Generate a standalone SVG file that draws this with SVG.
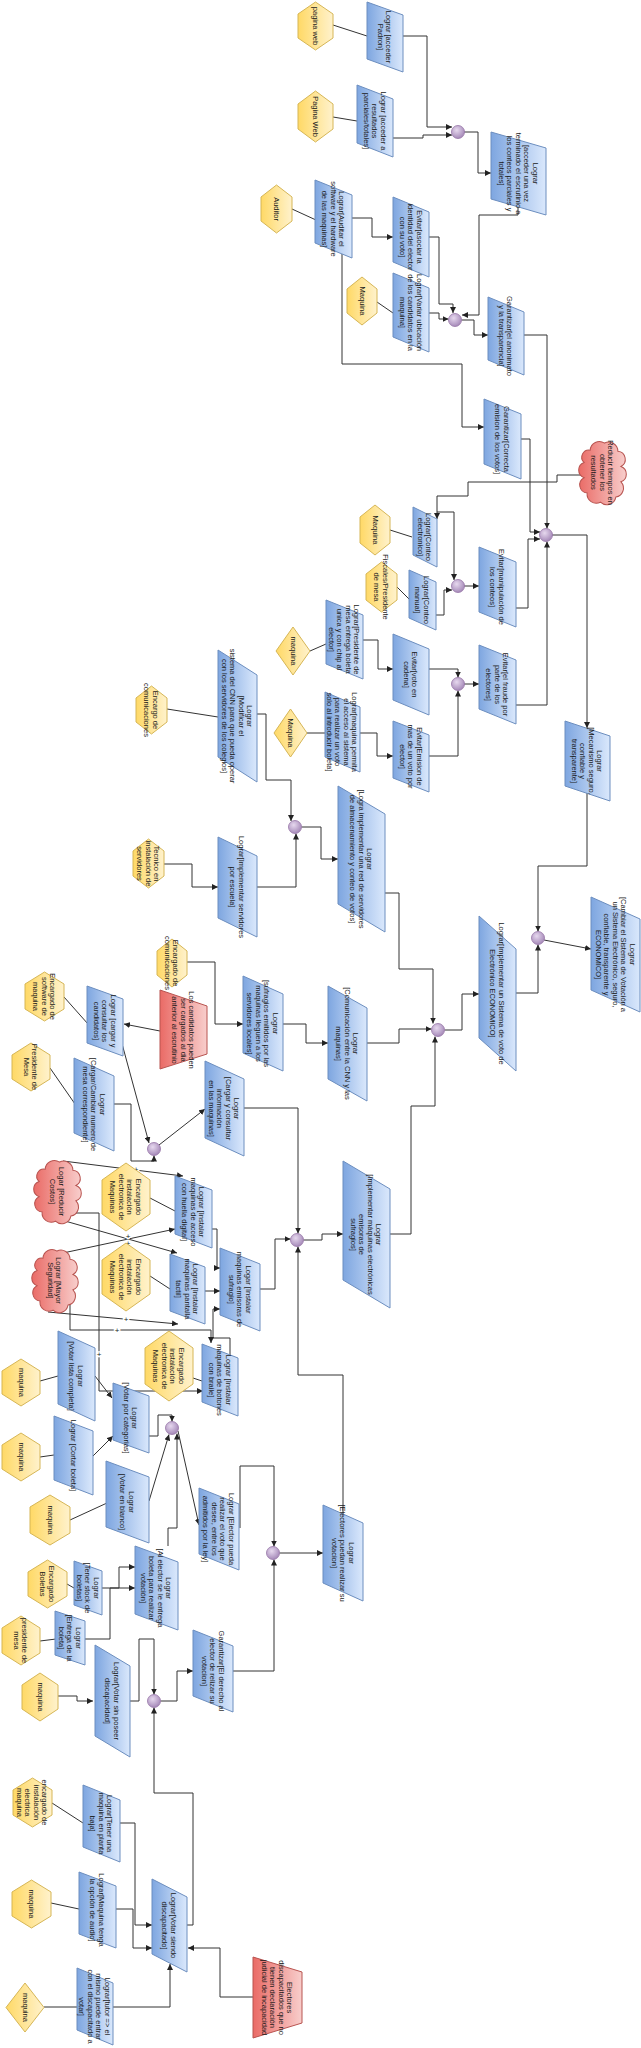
<svg xmlns="http://www.w3.org/2000/svg" xmlns:xlink="http://www.w3.org/1999/xlink" width="641" height="2048" viewBox="0 0 641 2048">
<style>
.t{font-family:"Liberation Sans",Arial,sans-serif;font-size:7.5px;fill:#1a1a1a;text-anchor:middle;dominant-baseline:central}
.goal{fill:url(#gBlue);stroke:#6c8ebf;stroke-width:1}
.agent{fill:url(#gYellow);stroke:#d6b656;stroke-width:1}
.risk{fill:url(#gRed);stroke:#b85450;stroke-width:1}
.and{fill:url(#gPurple);stroke:#9673a6;stroke-width:0.8}
.c{fill:none;stroke:#333;stroke-width:1}
.a{marker-end:url(#arr)}
.pl{font-family:"Liberation Sans",Arial,sans-serif;font-size:8px;fill:#222;text-anchor:middle;dominant-baseline:central;stroke:#fff;stroke-width:2.5;paint-order:stroke}
</style>
<defs>
<linearGradient id="gBlue" x1="0" y1="0" x2="1" y2="0"><stop offset="0" stop-color="#7ea6e0"/><stop offset="1" stop-color="#dae8fc"/></linearGradient>
<linearGradient id="gYellow" x1="0" y1="0" x2="1" y2="0"><stop offset="0" stop-color="#ffd966"/><stop offset="1" stop-color="#fff2cc"/></linearGradient>
<linearGradient id="gRed" x1="0" y1="0" x2="1" y2="0"><stop offset="0" stop-color="#ea6b66"/><stop offset="1" stop-color="#f8cecc"/></linearGradient>
<radialGradient id="gPurple" cx="0.4" cy="0.35" r="0.7"><stop offset="0" stop-color="#e6d8ee"/><stop offset="1" stop-color="#a184b5"/></radialGradient>
<marker id="arr" viewBox="0 0 8 8" refX="8" refY="4" markerWidth="6" markerHeight="6" markerUnits="userSpaceOnUse" orient="auto"><path d="M0,0 L8,4 L0,8 z" fill="#222"/></marker>
<path id="cloud" d="M8,10 A9,9 0 0 1 22,3 A9,9 0 0 1 35,11 A8,8 0 0 1 38,26 A8,8 0 0 1 38,41 A9,9 0 0 1 33,56 A9,9 0 0 1 18,61 A9,9 0 0 1 5,52 A8,8 0 0 1 2,37 A8,8 0 0 1 2,22 A7,7 0 0 1 8,10 Z"/>
</defs>
<rect width="641" height="2048" fill="#fff"/>

<g id="connectors">
<path class="c" d="M333,25 L367,36"/>
<path class="c" d="M333,117 L357,121"/>
<path class="c" d="M292,209 L316,220"/>
<path class="c" d="M377,302 L393,313"/>
<path class="c" d="M390,530 L412,537"/>
<path class="c" d="M397,587 L409,599"/>
<path class="c" d="M310,651 L326,644"/>
<path class="c" d="M307,733 L325,733"/>
<path class="c" d="M167,709 L218,717"/>
<path class="c" d="M64,997 L88,1024"/>
<path class="c" d="M50,1068 L75,1104"/>
<path class="c" d="M150,1198 L175,1211"/>
<path class="c" d="M150,1276 L170,1289"/>
<path class="c" d="M193,1378 L202,1381"/>
<path class="c" d="M40,1381 L58,1376"/>
<path class="c" d="M40,1457 L54,1455"/>
<path class="c" d="M70,1520 L107,1503"/>
<path class="c" d="M67,1584 L74,1588"/>
<path class="c" d="M40,1641 L56,1639"/>
<path class="c" d="M52,1803 L83,1823"/>
<path class="c" d="M51,1903 L79,1909"/>
<path class="c" d="M44,2007 L77,2007"/>

<path class="c a" d="M403,36 H427 V127 H452"/>
<path class="c a" d="M393,138 H423 V135 H452"/>
<path class="c a" d="M464,132 H478 V173 H491"/>
<path class="c a" d="M518,207 V215 H479 V315 H462"/>
<path class="c a" d="M352,218 H372 V237 H393"/>
<path class="c a" d="M429,237 H439 V304 H453 V313"/>
<path class="c a" d="M429,313 H439 V319 H448.5"/>
<path class="c a" d="M461.5,320 H474 V335 H488"/>
<path class="c a" d="M524,335 H547 V528.5"/>
<path class="c a" d="M342,254 V364 H462 V427 H484"/>
<path class="c a" d="M521,439 H530 V532 H540"/>
<path class="c a" d="M582,475 H557 V482 H468 V496 H437 V519"/>
<path class="c a" d="M437,512 H454 V580"/>
<path class="c a" d="M436,615 H444 V590 H452"/>
<path class="c a" d="M464,586 H479"/>
<path class="c a" d="M516,608 H528 V539 H540"/>
<path class="c a" d="M516,705 H547 V541.5"/>
<path class="c a" d="M552,535 H587 V728"/>
<path class="c a" d="M363,640 H378 V669 H393"/>
<path class="c a" d="M429,669 H458 V677.5"/>
<path class="c a" d="M464,684 H479"/>
<path class="c a" d="M360,733 H377 V756 H393"/>
<path class="c a" d="M429,756 H458 V690.5"/>
<path class="c a" d="M587,793 V866 H538 V931.5"/>
<path class="c a" d="M544,940 L591,949"/>
<path class="c a" d="M516,993 H538 V944.5"/>
<path class="c a" d="M257,714 H266 V780 H291 V821"/>
<path class="c a" d="M164,864 H192 V887 H218"/>
<path class="c a" d="M257,887 H296 V833.5"/>
<path class="c a" d="M301.5,827 H321 V859 H338"/>
<path class="c a" d="M385,893 H399 V969 H433 V1023.5"/>
<path class="c a" d="M187,962 H215 V1024 H243"/>
<path class="c a" d="M283,1024 H306 V1043 H328"/>
<path class="c a" d="M367,1043 H399 V1029 H431.5"/>
<path class="c a" d="M444.5,1030 H462 V994 H479"/>
<path class="c a" d="M390,1234 H411 V1106 H435 V1036.5"/>
<path class="c a" d="M114,1104 H131 V1161 H154 V1155.5"/>
<path class="c a" d="M121,1040 L149,1143"/>
<path class="c a" d="M160,1031 L124,1024"/>
<path class="c a" d="M159,1145 L205,1109"/>
<path class="c a" d="M244,1108 H298 V1233.5"/>
<path class="c a" d="M260,1289 H275 V1239 H290.5"/>
<path class="c a" d="M303.5,1240 H322 V1234 H343"/>
<path class="c a" d="M343,1514 V1375 H298 V1246.5"/>
<path class="c a" d="M212,1229 H217 V1268 H220"/>
<path class="c a" d="M205,1291 H220"/>
<path class="c a" d="M230,1355 V1338 H213 V1309 H220"/>
<path class="c a" d="M63,1161 L183,1176"/>
<path class="c a" d="M58,1219 L177,1253"/>
<path class="c a" d="M63,1253 L175,1229"/>
<path class="c a" d="M48,1312 L178,1324"/>
<path class="c a" d="M70,1289 V1330 H211 V1343"/>
<path class="c a" d="M58,1213 H99 V1391 H203"/>
<path class="c a" d="M95,1376 L112,1398"/>
<path class="c a" d="M93,1456 L113,1436"/>
<path class="c a" d="M149,1436 H158 V1415 H172 V1421.5"/>
<path class="c a" d="M149,1501 L169,1434.5"/>
<path class="c a" d="M168,1546 V1528 H177 V1433.5"/>
<path class="c a" d="M178,1431 L199,1525"/>
<path class="c a" d="M102,1588 H135"/>
<path class="c a" d="M85,1639 H110 V1588 H119 V1567 H135"/>
<path class="c a" d="M58,1696 H77 V1701 H93"/>
<path class="c a" d="M130,1701 H139 V1639 H154 V1694.5"/>
<path class="c a" d="M160.5,1701 H177 V1671 H193"/>
<path class="c a" d="M187,1925 H193 V1793 H154 V1707.5"/>
<path class="c a" d="M233,1671 H274 V1559.5"/>
<path class="c a" d="M240,1528 V1466 H274 V1546.5"/>
<path class="c a" d="M279.5,1553 H323"/>
<path class="c a" d="M120,1823 H135 V1925 H152"/>
<path class="c a" d="M116,1909 H133 V1948 H152"/>
<path class="c a" d="M253,1997 H220 V1948 H188"/>
<path class="c a" d="M113,2007 H170 V1964"/>

<text class="pl" x="136" y="1169">+</text>
<text class="pl" x="128" y="1236">+</text>
<text class="pl" x="128" y="1243">+</text>
<text class="pl" x="126" y="1319">+</text>
<text class="pl" x="117" y="1330">+</text>
<text class="pl" x="99" y="1354">+</text>
</g>

<g id="and-nodes">
<circle id="and1" class="and" cx="458" cy="132" r="6.5"/>
<circle id="and2" class="and" cx="455" cy="320" r="6.5"/>
<circle id="and3" class="and" cx="546" cy="535" r="6.5"/>
<circle id="and4" class="and" cx="458" cy="586" r="6.5"/>
<circle id="and5" class="and" cx="458" cy="684" r="6.5"/>
<circle id="and6" class="and" cx="538" cy="938" r="6.5"/>
<circle id="and7" class="and" cx="295" cy="827" r="6.5"/>
<circle id="and8" class="and" cx="438" cy="1030" r="6.5"/>
<circle id="and9" class="and" cx="154" cy="1149" r="6.5"/>
<circle id="and10" class="and" cx="297" cy="1240" r="6.5"/>
<circle id="and11" class="and" cx="172" cy="1428" r="6.5"/>
<circle id="and12" class="and" cx="273" cy="1553" r="6.5"/>
<circle id="and13" class="and" cx="154" cy="1701" r="6.5"/>
</g>

<g id="g-padron"><polygon class="goal" points="367,2 403,15 403,72 367,59"/><text class="t" transform="translate(385,37) rotate(90)"><tspan x="0" y="-4.25">Lograr [acceder</tspan><tspan x="0" y="4.25">Padron]</tspan></text></g>
<g id="g-resultados"><polygon class="goal" points="357,85 393,99 393,157 357,143"/><text class="t" transform="translate(375,121) rotate(90)"><tspan x="0" y="-8.5">Lograr [acceder a</tspan><tspan x="0" y="0">resultados</tspan><tspan x="0" y="8.5">parciales/totales]</tspan></text></g>
<g id="g-conteos"><polygon class="goal" points="491,132 546,148 546,215 491,199"/><text class="t" transform="translate(518.5,173.5) rotate(90)"><tspan x="0" y="-17">Lograr</tspan><tspan x="0" y="-8.5">[acceder una vez</tspan><tspan x="0" y="0">terminado el escrutinio a</tspan><tspan x="0" y="8.5">los conteos parciales y</tspan><tspan x="0" y="17">totales]</tspan></text></g>
<g id="g-auditar"><polygon class="goal" points="315,180 352,195 352,258 315,243"/><text class="t" transform="translate(333.5,219) rotate(90)"><tspan x="0" y="-8.5">Lograr[Auditar el</tspan><tspan x="0" y="0">software y el hardware</tspan><tspan x="0" y="8.5">de las maquinas]</tspan></text></g>
<g id="g-asociar"><polygon class="goal" points="393,197 429,212 429,277 393,262"/><text class="t" transform="translate(411,237) rotate(90)"><tspan x="0" y="-8.5">Evitar[asociar la</tspan><tspan x="0" y="0">identidad del elector</tspan><tspan x="0" y="8.5">con su voto]</tspan></text></g>
<g id="g-variar"><polygon class="goal" points="393,273 429,288 429,352 393,337"/><text class="t" transform="translate(411,312.5) rotate(90)"><tspan x="0" y="-8.5">Lograr[Variar ubicación</tspan><tspan x="0" y="0">de los candidatos en la</tspan><tspan x="0" y="8.5">maquina]</tspan></text></g>
<g id="g-anonimato"><polygon class="goal" points="488,297 524,312 524,375 488,360"/><text class="t" transform="translate(506,336) rotate(90)"><tspan x="0" y="-4.25">Garantizar[el anonimato</tspan><tspan x="0" y="4.25">y la transparencia]</tspan></text></g>
<g id="g-correcta"><polygon class="goal" points="484,399 521,414 521,479 484,464"/><text class="t" transform="translate(502.5,439) rotate(90)"><tspan x="0" y="-4.25">Garantizar[Correcta</tspan><tspan x="0" y="4.25">emision de los votos]</tspan></text></g>
<g id="g-conteo-elec"><polygon class="goal" points="413,507 437,519 437,567 413,555"/><text class="t" transform="translate(425,537) rotate(90)"><tspan x="0" y="-4.25">Lograr[Conteo</tspan><tspan x="0" y="4.25">electronico]</tspan></text></g>
<g id="g-conteo-man"><polygon class="goal" points="409,570 436,582 436,630 409,618"/><text class="t" transform="translate(422.5,600) rotate(90)"><tspan x="0" y="-4.25">Lograr[Conteo</tspan><tspan x="0" y="4.25">manual]</tspan></text></g>
<g id="g-manip"><polygon class="goal" points="479,547 516,562 516,627 479,612"/><text class="t" transform="translate(497.5,587) rotate(90)"><tspan x="0" y="-4.25">Evitar[manipulación de</tspan><tspan x="0" y="4.25">los conteos]</tspan></text></g>
<g id="g-pres-boleta"><polygon class="goal" points="326,600 363,615 363,679 326,664"/><text class="t" transform="translate(344.5,639.5) rotate(90)"><tspan x="0" y="-12.75">Lograr[Presidente de</tspan><tspan x="0" y="-4.25">mesa entrega boleta</tspan><tspan x="0" y="4.25">unica y con chip al</tspan><tspan x="0" y="12.75">elector]</tspan></text></g>
<g id="g-cadena"><polygon class="goal" points="393,634 429,649 429,715 393,700"/><text class="t" transform="translate(411,674.5) rotate(90)"><tspan x="0" y="-4.25">Evitar[voto en</tspan><tspan x="0" y="4.25">cadena]</tspan></text></g>
<g id="g-fraude"><polygon class="goal" points="479,645 516,660 516,724 479,709"/><text class="t" transform="translate(497.5,684.5) rotate(90)"><tspan x="0" y="-8.5">Evitar[el fraude por</tspan><tspan x="0" y="0">parte de los</tspan><tspan x="0" y="8.5">electores]</tspan></text></g>
<g id="g-permita"><polygon class="goal" points="325,692 360,707 360,772 325,757"/><text class="t" transform="translate(342.5,732) rotate(90)"><tspan x="0" y="-12.75">Lograr[maquina permita</tspan><tspan x="0" y="-4.25">el acceso al sistema</tspan><tspan x="0" y="4.25">para realizar un voto</tspan><tspan x="0" y="12.75">solo al introducir boleta]</tspan></text></g>
<g id="g-emision"><polygon class="goal" points="393,721 429,735 429,792 393,778"/><text class="t" transform="translate(411,756.5) rotate(90)"><tspan x="0" y="-8.5">Evitar[Emision de</tspan><tspan x="0" y="0">mas de un voto por</tspan><tspan x="0" y="8.5">elector]</tspan></text></g>
<g id="g-mecanismo"><polygon class="goal" points="565,721 610,736 610,801 565,786"/><text class="t" transform="translate(587.5,761) rotate(90)"><tspan x="0" y="-12.75">Lograr</tspan><tspan x="0" y="-4.25">[Mecanismo seguro,</tspan><tspan x="0" y="4.25">confiable y</tspan><tspan x="0" y="12.75">transparente]</tspan></text></g>
<g id="g-cambiar"><polygon class="goal" points="591,897 640,919 640,1012 591,990"/><text class="t" transform="translate(615.5,954.5) rotate(90)"><tspan x="0" y="-17">Lograr</tspan><tspan x="0" y="-8.5">[Cambiar el Sistema de Votación a</tspan><tspan x="0" y="0">un Sistema Electrónico, seguro,</tspan><tspan x="0" y="8.5">confiable, transparente y</tspan><tspan x="0" y="17">ECONOMICO]</tspan></text></g>
<g id="g-economico"><polygon class="goal" points="479,916 516,949 516,1071 479,1038"/><text class="t" transform="translate(497.5,993.5) rotate(90)"><tspan x="0" y="-4.25">Lograr[Implementar un Sistema de voto de</tspan><tspan x="0" y="4.25">Electrónico ECONOMICO]</tspan></text></g>
<g id="g-red"><polygon class="goal" points="338,786 385,814 385,932 338,904"/><text class="t" transform="translate(361.5,859) rotate(90)"><tspan x="0" y="-8.5">Lograr</tspan><tspan x="0" y="0">[Logra implementar una red de servidores</tspan><tspan x="0" y="8.5">de almacenamiento y conteo de votos]</tspan></text></g>
<g id="g-comunic"><polygon class="goal" points="328,986 367,1008 367,1101 328,1079"/><text class="t" transform="translate(347.5,1043.5) rotate(90)"><tspan x="0" y="-8.5">Lograr</tspan><tspan x="0" y="0">[Comunicación entre la CNN y las</tspan><tspan x="0" y="8.5">maquinas]</tspan></text></g>
<g id="g-impl-maq"><polygon class="goal" points="343,1161 390,1189 390,1308 343,1280"/><text class="t" transform="translate(366.5,1234.5) rotate(90)"><tspan x="0" y="-12.75">Lograr</tspan><tspan x="0" y="-4.25">[Implementar máquinas  electrónicas</tspan><tspan x="0" y="4.25">emisoras de</tspan><tspan x="0" y="12.75">sufragios]</tspan></text></g>
<g id="g-modificar"><polygon class="goal" points="218,650 257,675 257,782 218,757"/><text class="t" transform="translate(237.5,716) rotate(90)"><tspan x="0" y="-12.75">Lograr</tspan><tspan x="0" y="-4.25">[Modificar el</tspan><tspan x="0" y="4.25">sistema del CNN para que pueda operar</tspan><tspan x="0" y="12.75">con los servidores de los colegios]</tspan></text></g>
<g id="g-servidores"><polygon class="goal" points="218,837 257,856 257,937 218,918"/><text class="t" transform="translate(237.5,887) rotate(90)"><tspan x="0" y="-4.25">Lograr[Implementar servidores</tspan><tspan x="0" y="4.25">por escuela]</tspan></text></g>
<g id="g-sufragios"><polygon class="goal" points="243,976 283,994 283,1071 243,1053"/><text class="t" transform="translate(263,1023.5) rotate(90)"><tspan x="0" y="-12.75">Lograr</tspan><tspan x="0" y="-4.25">[sufragios emitidos por las</tspan><tspan x="0" y="4.25">maquinas lleguen a los</tspan><tspan x="0" y="12.75">servidores locales]</tspan></text></g>
<g id="g-cargar-cand"><polygon class="goal" points="87,986 123,999 123,1056 87,1043"/><text class="t" transform="translate(105,1021) rotate(90)"><tspan x="0" y="-8.5">Lograr [cargar y</tspan><tspan x="0" y="0">consultar los</tspan><tspan x="0" y="8.5">candidatos]</tspan></text></g>
<g id="d-candidatos"><polygon class="risk" points="160,990 207,1006 207,1054 160,1069"/><text class="t" transform="translate(183.5,1030) rotate(90)"><tspan x="0" y="-8.5">Los candidatos pueden</tspan><tspan x="0" y="0">ser cargados al dia</tspan><tspan x="0" y="8.5">anterior al escrutinio</tspan></text></g>
<g id="g-numero-mesa"><polygon class="goal" points="74,1058 114,1076 114,1151 74,1133"/><text class="t" transform="translate(94,1104.5) rotate(90)"><tspan x="0" y="-8.5">Lograr</tspan><tspan x="0" y="0">[Cargar/Cambiar numero de</tspan><tspan x="0" y="8.5">mesa correspondiente]</tspan></text></g>
<g id="g-info-maq"><polygon class="goal" points="205,1061 244,1079 244,1156 205,1138"/><text class="t" transform="translate(224.5,1108.5) rotate(90)"><tspan x="0" y="-12.75">Lograr</tspan><tspan x="0" y="-4.25">[Cargar y consultar</tspan><tspan x="0" y="4.25">información</tspan><tspan x="0" y="12.75">en las maquinas]</tspan></text></g>
<g id="g-huella"><polygon class="goal" points="175,1176 212,1190 212,1248 175,1234"/><text class="t" transform="translate(193.5,1212) rotate(90)"><tspan x="0" y="-8.5">Lograr [Instalar</tspan><tspan x="0" y="0">maquinas de acceso</tspan><tspan x="0" y="8.5">con huella digital]</tspan></text></g>
<g id="g-tactil"><polygon class="goal" points="170,1254 205,1267 205,1324 170,1311"/><text class="t" transform="translate(187.5,1289) rotate(90)"><tspan x="0" y="-8.5">Lograr [Instalar</tspan><tspan x="0" y="0">maquinas pantalla</tspan><tspan x="0" y="8.5">tactil]</tspan></text></g>
<g id="g-emisoras"><polygon class="goal" points="220,1248 260,1264 260,1331 220,1315"/><text class="t" transform="translate(240,1289.5) rotate(90)"><tspan x="0" y="-8.5">Logar [Instalar</tspan><tspan x="0" y="0">maquinas emisoras de</tspan><tspan x="0" y="8.5">sufragio]</tspan></text></g>
<g id="g-braile"><polygon class="goal" points="202,1344 238,1358 238,1416 202,1402"/><text class="t" transform="translate(220,1380) rotate(90)"><tspan x="0" y="-8.5">Lograr [Instalar</tspan><tspan x="0" y="0">maquinas de botones</tspan><tspan x="0" y="8.5">con braile]</tspan></text></g>
<g id="g-lista"><polygon class="goal" points="58,1331 95,1348 95,1421 58,1404"/><text class="t" transform="translate(76.5,1376) rotate(90)"><tspan x="0" y="-4.25">Lograr</tspan><tspan x="0" y="4.25">[Votar lista completa]</tspan></text></g>
<g id="g-categorias"><polygon class="goal" points="113,1383 149,1396 149,1453 113,1440"/><text class="t" transform="translate(131,1418) rotate(90)"><tspan x="0" y="-4.25">Lograr</tspan><tspan x="0" y="4.25">[Votar por categorias]</tspan></text></g>
<g id="g-cortar"><polygon class="goal" points="54,1416 93,1431 93,1495 54,1480"/><text class="t" transform="translate(73.5,1455.5) rotate(90)"><tspan x="0" y="0">Lograr [Cortar boleta]</tspan></text></g>
<g id="g-blanco"><polygon class="goal" points="106,1461 149,1477 149,1543 106,1527"/><text class="t" transform="translate(127.5,1502) rotate(90)"><tspan x="0" y="-4.25">Lograr</tspan><tspan x="0" y="4.25">[Votar en blanco]</tspan></text></g>
<g id="g-elector-pueda"><polygon class="goal" points="199,1488 239,1504 239,1570 199,1554"/><text class="t" transform="translate(219,1529) rotate(90)"><tspan x="0" y="-12.75">Lograr [Elector pueda</tspan><tspan x="0" y="-4.25">realizar el voto que</tspan><tspan x="0" y="4.25">desee, entre los</tspan><tspan x="0" y="12.75">admitidos por la ley]</tspan></text></g>
<g id="g-al-elector"><polygon class="goal" points="135,1546 178,1562 178,1630 135,1614"/><text class="t" transform="translate(156.5,1588) rotate(90)"><tspan x="0" y="-12.75">Lograr</tspan><tspan x="0" y="-4.25">[Al elector se le entrega</tspan><tspan x="0" y="4.25">boleta para realizar</tspan><tspan x="0" y="12.75">votación]</tspan></text></g>
<g id="g-stock"><polygon class="goal" points="74,1561 102,1571 102,1615 74,1605"/><text class="t" transform="translate(88,1588) rotate(90)"><tspan x="0" y="-8.5">Lograr</tspan><tspan x="0" y="0">[Tener stock de</tspan><tspan x="0" y="8.5">boletas]</tspan></text></g>
<g id="g-entrega"><polygon class="goal" points="55,1611 85,1621 85,1665 55,1655"/><text class="t" transform="translate(70,1638) rotate(90)"><tspan x="0" y="-8.5">Lograr</tspan><tspan x="0" y="0">[Entrega de la</tspan><tspan x="0" y="8.5">boleta]</tspan></text></g>
<g id="g-sin-disc"><polygon class="goal" points="95,1645 130,1666 130,1757 95,1736"/><text class="t" transform="translate(112.5,1701) rotate(90)"><tspan x="0" y="-4.25">Lograr[Votar sin poseer</tspan><tspan x="0" y="4.25">discapacidad]</tspan></text></g>
<g id="g-derecho"><polygon class="goal" points="193,1630 233,1646 233,1712 193,1696"/><text class="t" transform="translate(213,1671) rotate(90)"><tspan x="0" y="-8.5">Garantizar[El derecho al</tspan><tspan x="0" y="0">elector de relizar su</tspan><tspan x="0" y="8.5">votacion]</tspan></text></g>
<g id="g-electores"><polygon class="goal" points="323,1505 363,1523 363,1601 323,1583"/><text class="t" transform="translate(343,1553) rotate(90)"><tspan x="0" y="-8.5">Lograr</tspan><tspan x="0" y="0">[Electores puedan realizar su</tspan><tspan x="0" y="8.5">votacion]</tspan></text></g>
<g id="g-planta"><polygon class="goal" points="83,1785 120,1800 120,1862 83,1847"/><text class="t" transform="translate(101.5,1823.5) rotate(90)"><tspan x="0" y="-8.5">Lograr[Tener una</tspan><tspan x="0" y="0">maquina en planta</tspan><tspan x="0" y="8.5">baja]</tspan></text></g>
<g id="g-audio"><polygon class="goal" points="79,1872 116,1886 116,1948 79,1934"/><text class="t" transform="translate(97.5,1910) rotate(90)"><tspan x="0" y="-4.25">Lograr[Maquina tenga</tspan><tspan x="0" y="4.25">la opción de audio]</tspan></text></g>
<g id="g-disc"><polygon class="goal" points="152,1879 187,1897 187,1972 152,1954"/><text class="t" transform="translate(169.5,1925.5) rotate(90)"><tspan x="0" y="-4.25">Lograr[Votar siendo</tspan><tspan x="0" y="4.25">discapacitado]</tspan></text></g>
<g id="g-tutor"><polygon class="goal" points="77,1968 113,1983 113,2045 77,2030"/><text class="t" transform="translate(95,2006.5) rotate(90)"><tspan x="0" y="-12.75">Lograr[tutor =&gt; el</tspan><tspan x="0" y="-4.25">mismo puede entrar</tspan><tspan x="0" y="4.25">con el discapacitado a</tspan><tspan x="0" y="12.75">votar]</tspan></text></g>
<g id="d-discapacitados"><polygon class="risk" points="253,1957 302,1972 302,2023 253,2038"/><text class="t" transform="translate(277.5,1997.5) rotate(90)"><tspan x="0" y="-12.75">Electores</tspan><tspan x="0" y="-4.25">discapacitados que no</tspan><tspan x="0" y="4.25">tienen declaración</tspan><tspan x="0" y="12.75">judicial de incapacidad</tspan></text></g>

<g id="s-tiempos"><use xlink:href="#cloud" class="risk" transform="translate(582,440) scale(1.025,1.02)"/><text class="t" transform="translate(602.5,472.5) rotate(90)"><tspan x="0" y="-8.5">Reducir tiempos en</tspan><tspan x="0" y="0">obtener los</tspan><tspan x="0" y="8.5">resultados</tspan></text></g>
<g id="s-costos"><use xlink:href="#cloud" class="risk" transform="translate(37,1159) scale(1.025,1.02)"/><text class="t" transform="translate(57.5,1191.5) rotate(90)"><tspan x="0" y="-4.25">Logar [Reducir</tspan><tspan x="0" y="4.25">Costos]</tspan></text></g>
<g id="s-seguridad"><use xlink:href="#cloud" class="risk" transform="translate(35,1248) scale(1.0,1.02)"/><text class="t" transform="translate(55,1280.5) rotate(90)"><tspan x="0" y="-4.25">Lograr [Mayor</tspan><tspan x="0" y="4.25">Seguridad]</tspan></text></g>

<g id="a-paginaweb1"><polygon class="agent" points="315.5,2 333,14 333,38 315.5,50 298,38 298,14"/><text class="t" transform="translate(315.5,26) rotate(90)">pagina web</text></g>
<g id="a-paginaweb2"><polygon class="agent" points="315.5,91 333,104 333,129 315.5,142 298,129 298,104"/><text class="t" transform="translate(315.5,116.5) rotate(90)">Pagina Web</text></g>
<g id="a-auditor"><polygon class="agent" points="276.5,185 292,197 292,221 276.5,233 261,221 261,197"/><text class="t" transform="translate(276.5,209) rotate(90)">Auditor</text></g>
<g id="a-maquina1"><polygon class="agent" points="362,277 377,289 377,313 362,325 347,313 347,289"/><text class="t" transform="translate(362,301) rotate(90)">Maquina</text></g>
<g id="a-maquina2"><polygon class="agent" points="375,505 390,517 390,543 375,555 360,543 360,517"/><text class="t" transform="translate(375,530) rotate(90)">Maquina</text></g>
<g id="a-fiscales"><polygon class="agent" points="381.5,562 397,574 397,600 381.5,612 366,600 366,574"/><text class="t" transform="translate(381.5,587) rotate(90)"><tspan x="0" y="-4.25">Fiscales/Presidente</tspan><tspan x="0" y="4.25">de mesa</tspan></text></g>
<g id="a-maquina-d1"><polygon class="agent" points="293,627 310,651 293,675 276,651"/><text class="t" transform="translate(293,651) rotate(90)">maquina</text></g>
<g id="a-maquina-d2"><polygon class="agent" points="290.5,709 307,733 290.5,757 274,733"/><text class="t" transform="translate(290.5,733) rotate(90)">Maquina</text></g>
<g id="a-encargo-com"><polygon class="agent" points="151.5,686 167,698 167,722 151.5,734 136,722 136,698"/><text class="t" transform="translate(151.5,710) rotate(90)"><tspan x="0" y="-4.25">Encargo de</tspan><tspan x="0" y="4.25">comunicaciones</tspan></text></g>
<g id="a-tecnico"><polygon class="agent" points="148.5,839 164,851 164,876 148.5,888 133,876 133,851"/><text class="t" transform="translate(148.5,863.5) rotate(90)"><tspan x="0" y="-8.5">Tecnico en</tspan><tspan x="0" y="0">instalación de</tspan><tspan x="0" y="8.5">servidores</tspan></text></g>
<g id="a-encargado-com"><polygon class="agent" points="172,939 187,951 187,975 172,987 157,975 157,951"/><text class="t" transform="translate(172,963) rotate(90)"><tspan x="0" y="-4.25">Encargado de</tspan><tspan x="0" y="4.25">comunicaciones</tspan></text></g>
<g id="a-software"><polygon class="agent" points="44.5,972 64,984 64,1009 44.5,1021 25,1009 25,984"/><text class="t" transform="translate(44.5,996.5) rotate(90)"><tspan x="0" y="-8.5">Encargado de</tspan><tspan x="0" y="0">software de</tspan><tspan x="0" y="8.5">maquina</tspan></text></g>
<g id="a-presidente1"><polygon class="agent" points="31,1043 50,1055 50,1079 31,1091 12,1079 12,1055"/><text class="t" transform="translate(31,1067) rotate(90)"><tspan x="0" y="-4.25">Presidente de</tspan><tspan x="0" y="4.25">Mesa</tspan></text></g>
<g id="a-instal1"><polygon class="agent" points="126,1163 150,1180 150,1214 126,1231 102,1214 102,1180"/><text class="t" transform="translate(126,1197) rotate(90)"><tspan x="0" y="-12.75">Encargado</tspan><tspan x="0" y="-4.25">instalación</tspan><tspan x="0" y="4.25">electronica de</tspan><tspan x="0" y="12.75">Maquinas</tspan></text></g>
<g id="a-instal2"><polygon class="agent" points="126,1243 150,1260 150,1294 126,1311 102,1294 102,1260"/><text class="t" transform="translate(126,1277) rotate(90)"><tspan x="0" y="-12.75">Encargado</tspan><tspan x="0" y="-4.25">instalación</tspan><tspan x="0" y="4.25">electronica de</tspan><tspan x="0" y="12.75">Maquinas</tspan></text></g>
<g id="a-instal3"><polygon class="agent" points="169,1331 193,1348 193,1384 169,1401 145,1384 145,1348"/><text class="t" transform="translate(169,1366) rotate(90)"><tspan x="0" y="-12.75">Encargado</tspan><tspan x="0" y="-4.25">instalación</tspan><tspan x="0" y="4.25">electronica de</tspan><tspan x="0" y="12.75">Maquinas</tspan></text></g>
<g id="a-maquina3"><polygon class="agent" points="21,1359 40,1371 40,1394 21,1406 2,1394 2,1371"/><text class="t" transform="translate(21,1382.5) rotate(90)">maquina</text></g>
<g id="a-maquina4"><polygon class="agent" points="21,1433 40,1445 40,1469 21,1481 2,1469 2,1445"/><text class="t" transform="translate(21,1457) rotate(90)">maquina</text></g>
<g id="a-maquina5"><polygon class="agent" points="50,1495 70,1507 70,1533 50,1545 30,1533 30,1507"/><text class="t" transform="translate(50,1520) rotate(90)">maquina</text></g>
<g id="a-boletas"><polygon class="agent" points="47.5,1560 67,1572 67,1596 47.5,1608 28,1596 28,1572"/><text class="t" transform="translate(47.5,1584) rotate(90)"><tspan x="0" y="-4.25">Encargado</tspan><tspan x="0" y="4.25">Boletas</tspan></text></g>
<g id="a-presidente2"><polygon class="agent" points="21,1616 40,1628 40,1653 21,1665 2,1653 2,1628"/><text class="t" transform="translate(21,1640.5) rotate(90)"><tspan x="0" y="-4.25">presidente de</tspan><tspan x="0" y="4.25">mesa</tspan></text></g>
<g id="a-maquina6"><polygon class="agent" points="40,1673 58,1685 58,1709 40,1721 22,1709 22,1685"/><text class="t" transform="translate(40,1697) rotate(90)">maquina</text></g>
<g id="a-electrica"><polygon class="agent" points="32.5,1778 52,1790 52,1815 32.5,1827 13,1815 13,1790"/><text class="t" transform="translate(32.5,1802.5) rotate(90)"><tspan x="0" y="-12.75">encargado de</tspan><tspan x="0" y="-4.25">instalación</tspan><tspan x="0" y="4.25">electrica</tspan><tspan x="0" y="12.75">maquina</tspan></text></g>
<g id="a-maquina7"><polygon class="agent" points="31.5,1880 51,1892 51,1916 31.5,1928 12,1916 12,1892"/><text class="t" transform="translate(31.5,1904) rotate(90)">maquina</text></g>
<g id="a-maquina-d3"><polygon class="agent" points="25,1983 44,2007.5 25,2032 6,2007.5"/><text class="t" transform="translate(25,2007.5) rotate(90)">maquina</text></g>
</svg>
